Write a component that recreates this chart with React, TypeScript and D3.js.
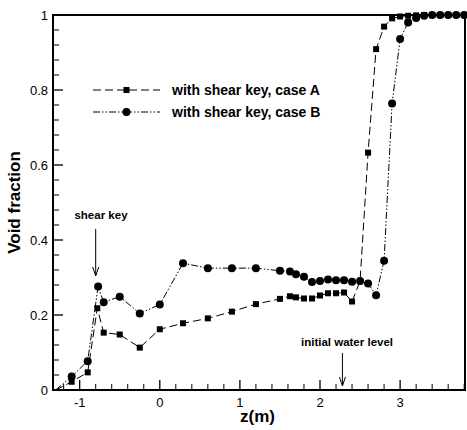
import * as d3 from "d3"

const caseAz = [-1.1, -0.9, -0.78, -0.7, -0.5, -0.25, 0, 0.29, 0.6, 0.9, 1.2, 1.5, 1.625, 1.7, 1.8, 1.9, 2.0, 2.1, 2.2, 2.3, 2.4, 2.5, 2.6, 2.7, 2.8, 2.9, 3.0, 3.1, 3.2, 3.3, 3.4, 3.5, 3.6, 3.7, 3.8]
const caseAv = [0.022, 0.047, 0.218, 0.153, 0.148, 0.113, 0.162, 0.178, 0.191, 0.209, 0.229, 0.243, 0.25, 0.247, 0.244, 0.244, 0.252, 0.258, 0.258, 0.26, 0.236, 0.29, 0.633, 0.909, 0.969, 0.991, 0.996, 0.998, 0.999, 1, 1, 1, 1, 1, 1]

const caseBz = [-1.1, -0.9, -0.77, -0.7, -0.5, -0.25, 0, 0.29, 0.6, 0.9, 1.2, 1.5, 1.625, 1.7, 1.8, 1.9, 2.0, 2.1, 2.2, 2.3, 2.4, 2.5, 2.6, 2.7, 2.8, 2.9, 3.0, 3.1, 3.2, 3.3, 3.4, 3.5, 3.6, 3.7, 3.8]
const caseBv = [0.036, 0.077, 0.276, 0.234, 0.249, 0.204, 0.228, 0.338, 0.325, 0.325, 0.325, 0.318, 0.316, 0.309, 0.302, 0.288, 0.291, 0.295, 0.293, 0.293, 0.289, 0.291, 0.284, 0.253, 0.345, 0.764, 0.936, 0.98, 0.992, 0.998, 1, 1, 1, 1, 1]

// both curves start from the lower left corner
const startPoint: [number, number] = [-1.3, 0]

const xTicks = [-1, 0, 1, 2, 3]
const yTicks = [0, 0.2, 0.4, 0.6, 0.8, 1]
const yTickLabels = ["0", "0.2", "0.4", "0.6", "0.8", "1"]

const seriesNames = ["with shear key, case A", "with shear key, case B"]

const W = 467
const H = 430
const m = { left: 53, right: 2, top: 15, bottom: 40 }
const font = "Arial, 'Liberation Sans', sans-serif"

const dashA = "8,4"
const dashB = "7,2,1.5,2,1.5,2"

export default function App() {
    const x = d3.scaleLinear().domain([-1.333, 3.81]).range([m.left, W - m.right])
    const y = d3.scaleLinear().domain([0, 1]).range([H - m.bottom, m.top])

    const line = d3.line<[number, number]>().x(d => x(d[0])).y(d => y(d[1]))
    const ptsA: [number, number][] = caseAz.map((z, i) => [z, caseAv[i]])
    const ptsB: [number, number][] = caseBz.map((z, i) => [z, caseBv[i]])

    const xMinor = d3.range(-1.2, 3.81, 0.2).filter(v => xTicks.every(t => Math.abs(t - v) > 1e-6))
    const yMinor = d3.range(0, 1.0001, 0.04).filter(v => yTicks.every(t => Math.abs(t - v) > 1e-6))

    const x0 = x.range()[0], x1 = x.range()[1]
    const y0 = y.range()[0], y1 = y.range()[1]

    const legX0 = 93, legX1 = 160
    const legY = [90, 112]

    return (
        <svg width={W} height={H} style={{ position: "absolute", left: 0, top: 0, background: "#fff" }} fontFamily={font}>
            {/* ticks */}
            {xTicks.map(t => <line key={"xt" + t} x1={x(t)} x2={x(t)} y1={y0} y2={y0 - 10} stroke="#000" strokeWidth={1.3} />)}
            {xMinor.map(t => <line key={"xm" + t} x1={x(t)} x2={x(t)} y1={y0} y2={y0 - 6} stroke="#000" strokeWidth={1} />)}
            {yTicks.map(t => <line key={"yt" + t} x1={x0} x2={x0 + 10} y1={y(t)} y2={y(t)} stroke="#000" strokeWidth={1.3} />)}
            {yMinor.map(t => <line key={"ym" + t} x1={x0} x2={x0 + 6} y1={y(t)} y2={y(t)} stroke="#000" strokeWidth={1} />)}

            {xTicks.map(t => <text key={"xl" + t} x={x(t)} y={y0 + 17} fontSize={13} textAnchor="middle">{t}</text>)}
            {yTicks.map((t, i) => <text key={"yl" + t} x={x0 - 5} y={y(t) + 5} fontSize={13} textAnchor="end">{yTickLabels[i]}</text>)}

            {/* lines */}
            <path d={line([startPoint, ...ptsA]) ?? ""} fill="none" stroke="#000" strokeWidth={1} strokeDasharray={dashA} />
            <path d={line([startPoint, ...ptsB]) ?? ""} fill="none" stroke="#000" strokeWidth={1} strokeDasharray={dashB} />
            {ptsA.map((p, i) => <rect key={"a" + i} x={x(p[0]) - 3} y={y(p[1]) - 3} width={6} height={6} fill="#000" />)}
            {ptsB.map((p, i) => <circle key={"b" + i} cx={x(p[0])} cy={y(p[1])} r={4} fill="#000" />)}

            {/* frame */}
            <rect x={x0} y={y1} width={x1 - x0} height={y0 - y1} fill="none" stroke="#000" strokeWidth={2} />

            {/* legend */}
            <line x1={legX0} x2={legX1} y1={legY[0]} y2={legY[0]} stroke="#000" strokeWidth={1} strokeDasharray={dashA} />
            <rect x={(legX0 + legX1) / 2 - 3} y={legY[0] - 3} width={6} height={6} fill="#000" />
            <line x1={legX0} x2={legX1} y1={legY[1]} y2={legY[1]} stroke="#000" strokeWidth={1} strokeDasharray={dashB} />
            <circle cx={(legX0 + legX1) / 2} cy={legY[1]} r={4} fill="#000" />
            {seriesNames.map((n, i) => <text key={n} x={172} y={legY[i] + 5} fontSize={14} fontWeight="bold">{n}</text>)}

            {/* annotations */}
            <text x={101} y={219} fontSize={11.5} fontWeight="bold" textAnchor="middle">shear key</text>
            <line x1={x(-0.8)} x2={x(-0.8)} y1={229} y2={275} stroke="#000" strokeWidth={1} />
            <path d={`M${x(-0.8) - 3},${267} L${x(-0.8)},${276} L${x(-0.8) + 3},${267}`} fill="none" stroke="#000" strokeWidth={1} />
            <text x={347} y={346} fontSize={11.5} fontWeight="bold" textAnchor="middle">initial water level</text>
            <line x1={x(2.28)} x2={x(2.28)} y1={353} y2={385} stroke="#000" strokeWidth={1} />
            <path d={`M${x(2.28) - 3},${377} L${x(2.28)},${386} L${x(2.28) + 3},${377}`} fill="none" stroke="#000" strokeWidth={1} />

            {/* axis titles */}
            <text x={W / 2 + 24} y={H - 8} fontSize={17} fontWeight="bold" textAnchor="middle">z(m)</text>
            <text transform={`translate(20,${(y0 + y1) / 2}) rotate(-90)`} fontSize={17} fontWeight="bold" textAnchor="middle">Void fraction</text>
        </svg>
    )
}
